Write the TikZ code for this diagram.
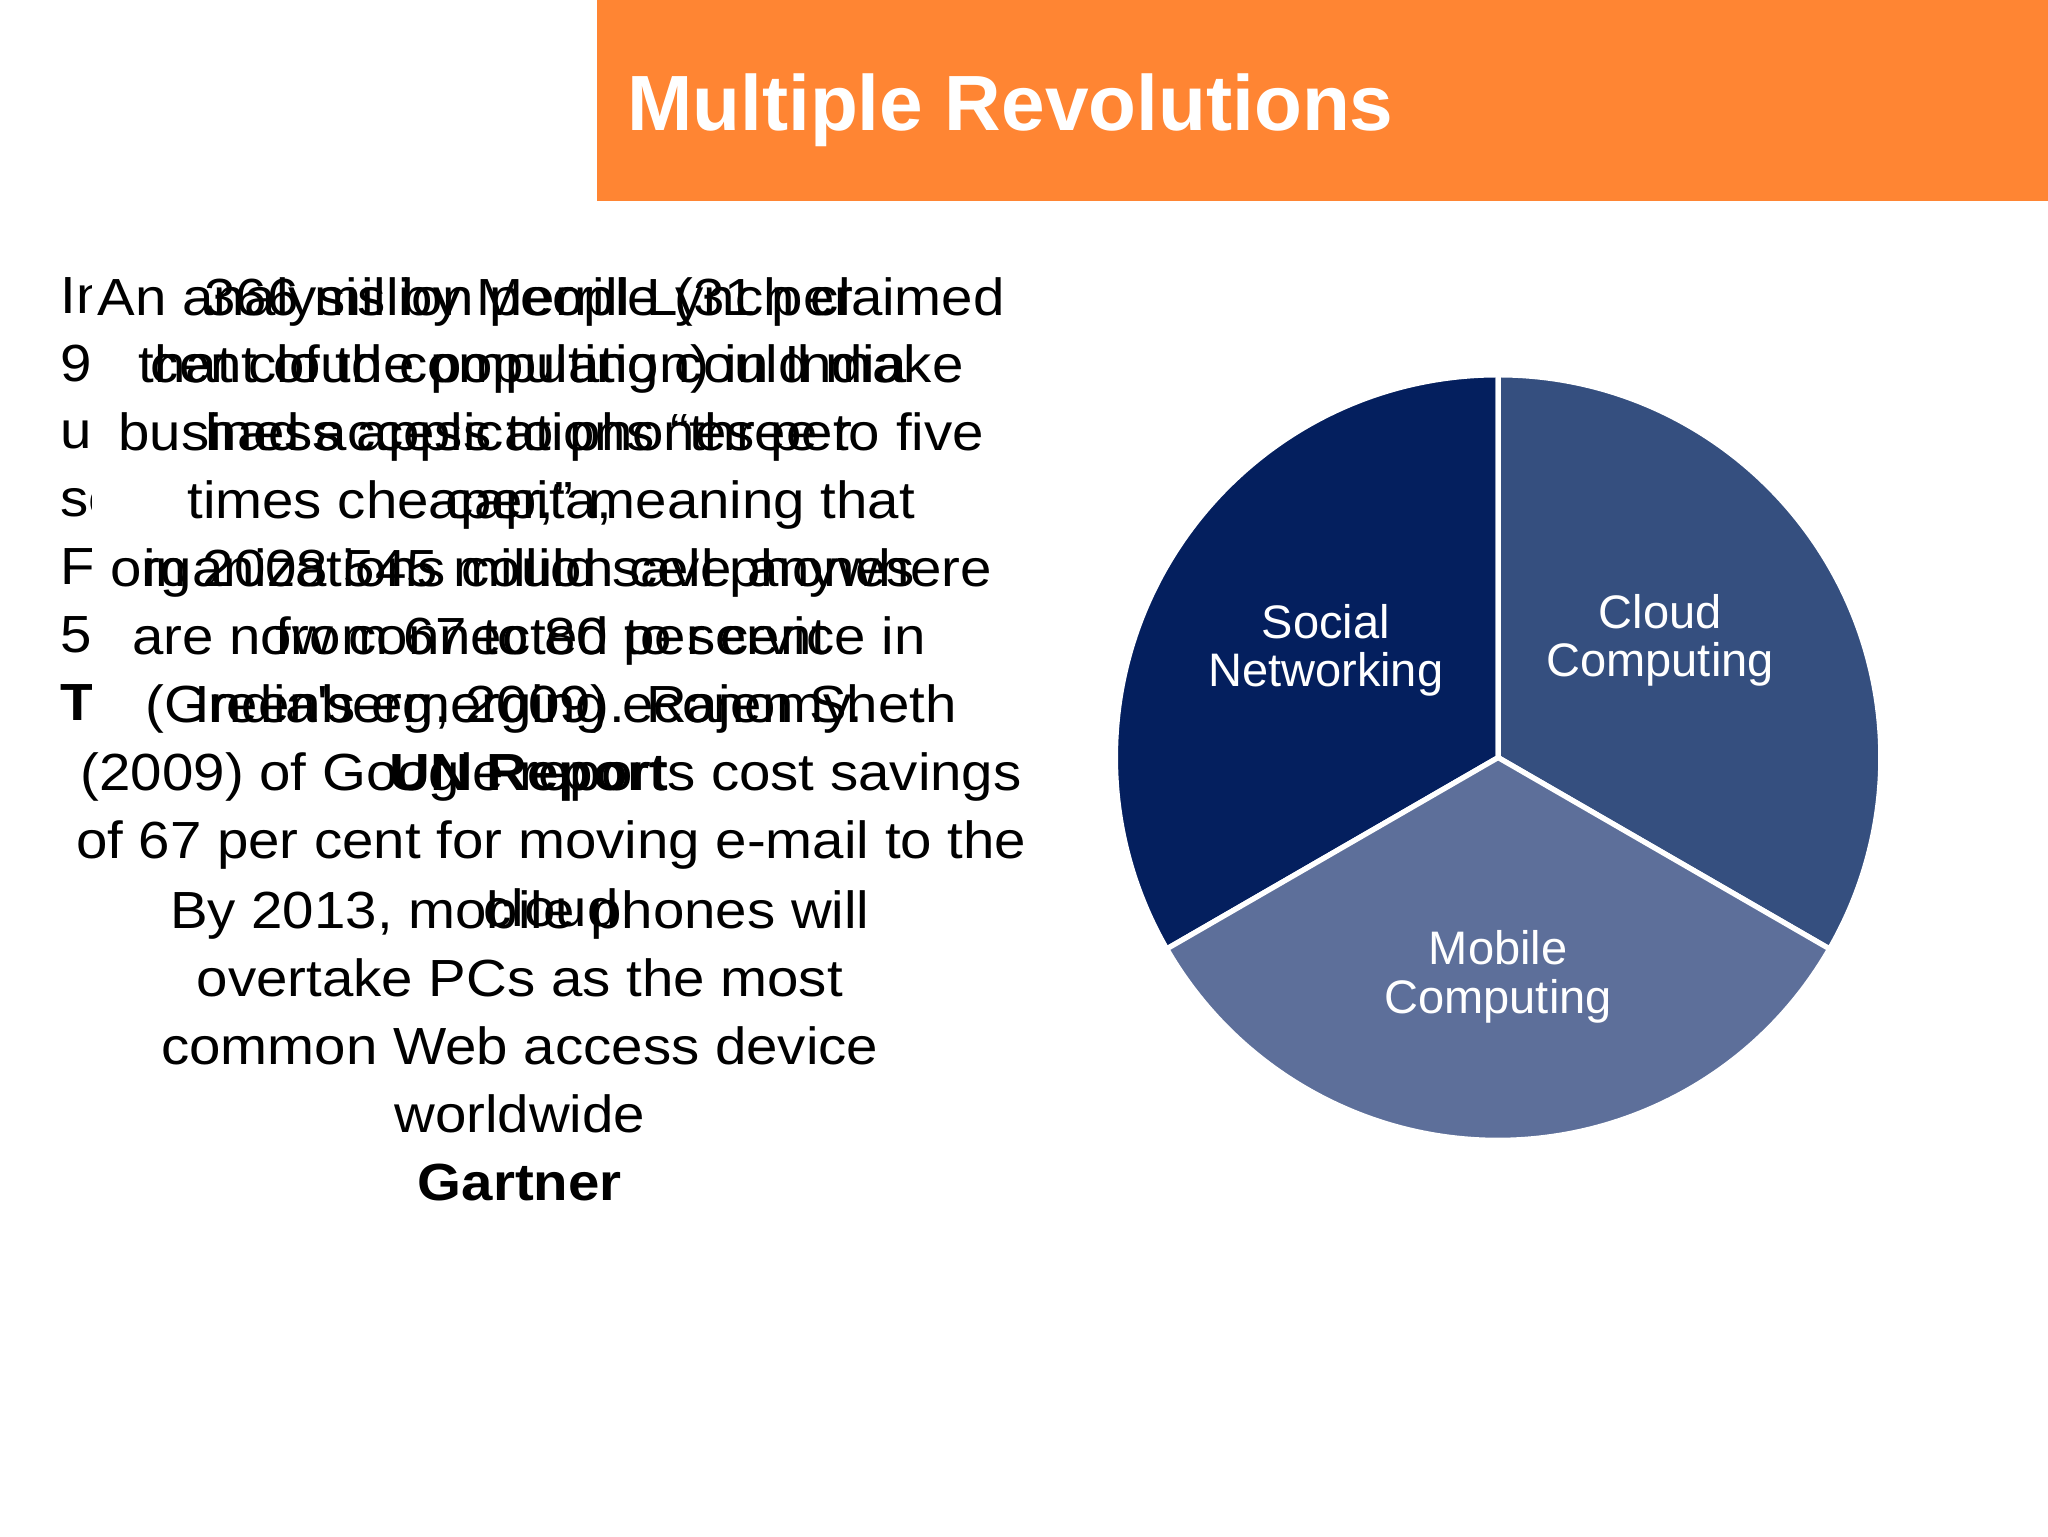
\documentclass[tikz,border=0pt]{standalone}
\usepackage{fontspec}
\setmainfont{Liberation Sans}
\newfontfamily\widefont[FakeStretch=1.08]{Liberation Sans}
\definecolor{orng}{HTML}{FF8533}
\definecolor{navA}{HTML}{041F5E}
\definecolor{navB}{HTML}{354F7F}
\definecolor{navC}{HTML}{5D6F9A}
\begin{document}
\begin{tikzpicture}[x=1pt,y=-1pt,
  body/.style={align=center,font=\widefont\fontsize{40}{52}\selectfont,inner sep=0pt,anchor=base},
  slice/.style={draw=white,line width=4pt,line join=round},
  plabel/.style={text=white,align=center,font=\fontsize{36}{37}\selectfont}]
\useasboundingbox (0,0) rectangle (1568,1176);
\fill[white] (0,0) rectangle (1568,1176);
\fill[orng] (457,0) rectangle (1568,154);
\node[anchor=base west,text=white,font=\bfseries\fontsize{60}{60}\selectfont,inner sep=0pt] (title) at (480,100) {Multiple Revolutions};
% clipped left column
\begin{scope}
\clip (40,190) rectangle (70,580);
\node[anchor=north west,align=left,font=\widefont\fontsize{40}{52}\selectfont,inner sep=0pt] (left) at (46,212) {In\\9\\u\\sc\\F\\5\\\textbf{T}};
\end{scope}
\node[body,anchor=north] (a) at (422,212) {An analysis by Merrill Lynch claimed\\that cloud computing could make\\business applications “three to five\\times cheaper,” meaning that\\organizations could save anywhere\\from 67 to 80 per cent\\(Greenberg, 2009). Rajen Sheth\\(2009) of Google reports cost savings\\of 67 per cent for moving e-mail to the\\cloud};
\node[body,anchor=north] (b) at (405,212) {366 million people (31 per\\cent of the population) in India\\had access to phones per\\capita,\\in 2008 545 million cell phones\\are now connected to service in\\India's emerging economy.\\\textbf{UN Report}};
\node[body,anchor=north] (c) at (398,682) {By 2013, mobile phones will\\overtake PCs as the most\\common Web access device\\worldwide\\\textbf{Gartner}};
% pie
\coordinate (o) at (1147,580);
\fill[navA,slice] (o) -- ++(90:-293) arc[start angle=-90,end angle=-210,radius=293] -- cycle;
\fill[navB,slice] (o) -- ++(90:-293) arc[start angle=-90,end angle=30,radius=293] -- cycle;
\fill[navC,slice] (o) -- ++(30:293) arc[start angle=30,end angle=150,radius=293] -- cycle;
\node[plabel] (sn) at (1015,498) {Social\\Networking};
\node[plabel] (cc) at (1271,490) {Cloud\\Computing};
\node[plabel] (mc) at (1147,748) {Mobile\\Computing};
\end{tikzpicture}
\end{document}
